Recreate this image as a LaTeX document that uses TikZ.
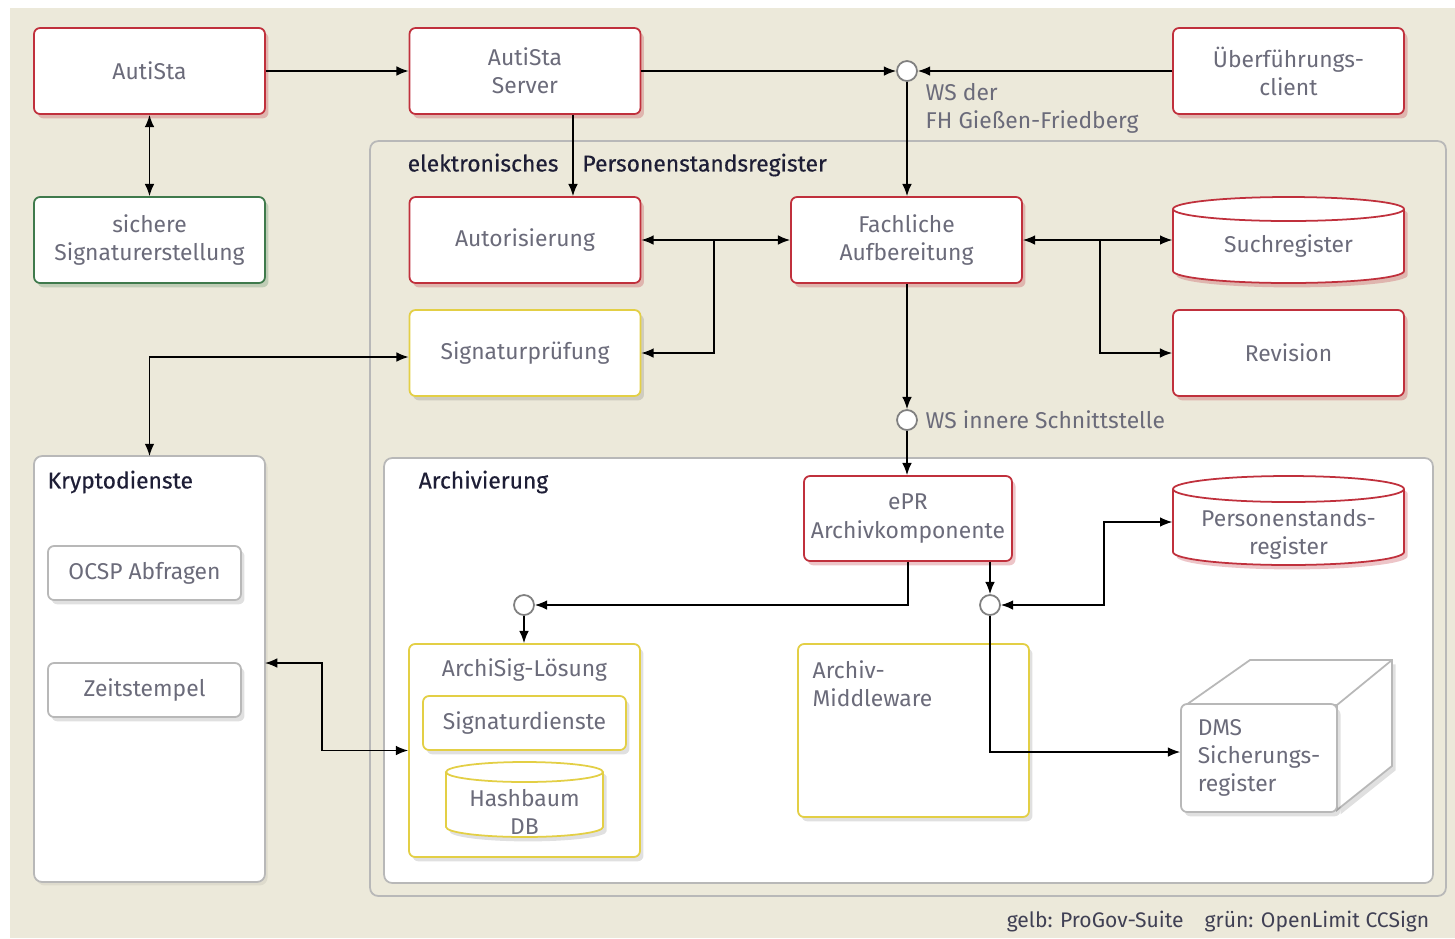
\documentclass[tikz,border=0pt]{standalone}
\usepackage{fontspec}
\setmainfont{Fira Sans}
\newfontfamily\titelfont[FakeBold=0.4]{Fira Sans}
\usetikzlibrary{arrows.meta,shadows,positioning}

\definecolor{bgbeige}{HTML}{ECE9DA}
\definecolor{rahmrot}{HTML}{C0303C}
\definecolor{rahmgelb}{HTML}{E3CF45}
\definecolor{rahmgruen}{HTML}{3F7A4C}
\definecolor{rahmgrau}{HTML}{B8B8B8}
\definecolor{textgrau}{HTML}{6B6B7A}
\definecolor{titel}{HTML}{1E1E36}

% Zylinder: Stil, cx, cy, halbe Breite, halbe Hoehe, Ellipsenradius (alles in px)
\newcommand\zylinder[6]{%
  \draw[#1] (#2-#4,#3-#5+#6) -- (#2-#4,#3+#5-#6)
    arc[start angle=180,end angle=360,x radius=#4*0.02cm,y radius=#6*0.02cm]
    -- (#2+#4,#3-#5+#6)
    arc[start angle=0,end angle=180,x radius=#4*0.02cm,y radius=#6*0.02cm]
    arc[start angle=180,end angle=360,x radius=#4*0.02cm,y radius=#6*0.02cm];}

\begin{document}
\begin{tikzpicture}[x=0.02cm,y=-0.02cm,>={Latex[length=7pt,width=5.5pt]},line width=0.8pt,
    every node/.style={font=\fontsize{13}{16}\selectfont,text=textgrau,align=center},
    kasten/.style={draw,fill=white,rounded corners=0.12cm,line width=1pt,
      minimum width=4.62cm,minimum height=1.72cm,inner sep=2pt},
    rotkasten/.style={kasten,draw=rahmrot,
      drop shadow={shadow xshift=2pt,shadow yshift=-2.5pt,fill=rahmrot,opacity=0.28}},
    gelbkasten/.style={kasten,draw=rahmgelb,
      drop shadow={shadow xshift=2pt,shadow yshift=-2.5pt,fill=black,opacity=0.12}},
    gruenkasten/.style={kasten,draw=rahmgruen,
      drop shadow={shadow xshift=2pt,shadow yshift=-2.5pt,fill=rahmgruen,opacity=0.25}},
    graukasten/.style={kasten,draw=rahmgrau,
      drop shadow={shadow xshift=2pt,shadow yshift=-2.5pt,fill=black,opacity=0.12}},
    rotzyl/.style={draw=rahmrot,fill=white,line width=1pt,
      drop shadow={shadow xshift=2pt,shadow yshift=-2.5pt,fill=rahmrot,opacity=0.28}},
    gelbzyl/.style={draw=rahmgelb,fill=white,line width=1pt,
      drop shadow={shadow xshift=2pt,shadow yshift=-2.5pt,fill=black,opacity=0.12}},
    bereich/.style={draw=rahmgrau,rounded corners=0.16cm,line width=1pt,inner sep=0,outer sep=0},
    titeltext/.style={anchor=west,inner sep=0,text=titel,font=\fontsize{13}{16}\titelfont},
    ws/.style={circle,draw=gray,fill=white,minimum size=0.4cm,inner sep=0,line width=1pt}]

    \useasboundingbox (0,0) rectangle (1455,938);
    \fill[bgbeige] (10,8) rectangle (1455,938);

    % Bereiche
    \node[bereich,fill=bgbeige,minimum width=21.52cm,minimum height=15.1cm] (epr) at (908,518.5) {};
    \node[bereich,fill=white,minimum width=20.98cm,minimum height=8.5cm] (archiv) at (908.5,670.5) {};
    \node[bereich,fill=white,minimum width=4.62cm,minimum height=8.52cm,
      drop shadow={shadow xshift=1.5pt,shadow yshift=-2pt,fill=black,opacity=0.06}] (krypto) at (149.5,669) {};
    \node[titeltext] (eprtxt) at (407,165) {elektronisches\hspace{0.48cm}Personenstandsregister};
    \node[titeltext] (kryptotxt) at (47,482) {Kryptodienste};
    \node[titeltext] (archivtxt) at (418,482) {Archivierung};

    % obere Reihe
    \node[rotkasten] (autista) at (149.5,71) {AutiSta};
    \node[rotkasten] (server) at (525,71) {AutiSta\\Server};
    \node[ws] (ws1) at (907,71) {};
    \node[rotkasten] (ueberf) at (1288.5,71) {Überführungs-\\client};
    \node[anchor=west,align=left,inner sep=0] (ws1txt) at (925,108) {WS der\\FH Gießen-Friedberg};

    \node[gruenkasten] (sicher) at (149.5,240) {sichere\\Signaturerstellung};
    \node[rotkasten] (autor) at (525,240) {Autorisierung};
    \node[rotkasten] (fach) at (906.5,240) {Fachliche\\Aufbereitung};
    \zylinder{rotzyl}{1288.5}{240}{115.5}{43}{12}
    \node[minimum width=4.62cm] (such) at (1288.5,246) {Suchregister};

    \node[gelbkasten] (sigpr) at (525,353) {Signaturprüfung};
    \node[rotkasten] (revision) at (1288.5,353) {Revision};
    \node[ws] (ws2) at (907,420) {};
    \node[anchor=west,inner sep=0] (ws2txt) at (925,420) {WS innere Schnittstelle};

    % Kryptodienste
    \node[graukasten,minimum width=3.86cm,minimum height=1.08cm] (ocsp) at (144.5,573) {OCSP Abfragen};
    \node[graukasten,minimum width=3.86cm,minimum height=1.08cm] (zeit) at (144.5,690) {Zeitstempel};

    % Archivierung
    \node[rotkasten,minimum width=4.16cm,minimum height=1.7cm] (epra) at (908,518.5) {ePR\\Archivkomponente};
    \zylinder{rotzyl}{1288.5}{520.5}{115.5}{44.5}{13}
    \node[minimum width=4.62cm] (persreg) at (1288.5,534) {Personenstands-\\register};
    \node[ws] (ws3) at (524,605) {};
    \node[ws] (ws4) at (990,605) {};
    \node[gelbkasten,minimum width=4.62cm,minimum height=4.26cm] (archisig) at (524.5,750.5) {};
    \node (archisigtxt) at (524.5,670) {ArchiSig-Lösung};
    \node[gelbkasten,minimum width=4.06cm,minimum height=1.08cm] (sigdienst) at (524.5,723) {Signaturdienste};
    \zylinder{gelbzyl}{524.5}{799.5}{78.5}{37.5}{10}
    \node (hashdb) at (524.5,812) {Hashbaum\\DB};
    \node[gelbkasten,minimum width=4.62cm,minimum height=3.46cm] (middle) at (913.5,730.5) {};
    \node[anchor=west,align=left,inner sep=0] (middletxt) at (812,684) {Archiv-\\Middleware};

    % DMS als Quader
    \filldraw[fill=white,draw=rahmgrau,line width=1pt,
      drop shadow={shadow xshift=2pt,shadow yshift=-2.5pt,fill=black,opacity=0.12}]
      (1186,705) -- (1250,660) -- (1392,660) -- (1392,766) -- (1337,810) -- (1337,705) -- cycle;
    \draw[rahmgrau,line width=1pt] (1337,705) -- (1392,660);
    \node[graukasten,minimum width=3.12cm,minimum height=2.16cm,align=left] (dms) at (1259,758)
      {DMS\\Sicherungs-\\register};

    \node[anchor=east,inner sep=0,text=titel!85,font=\fontsize{12}{16}\selectfont] (legende) at (1430,922)
      {gelb: ProGov-Suite\quad grün: OpenLimit CCSign};

    % Verbindungen
    \draw[->] (autista) -- (server);
    \draw[->] (server) -- (ws1);
    \draw[->] (ueberf) -- (ws1);
    \draw[->] (ws1.south) -- (ws1.south |- fach.north);
    \draw[<->] (autista) -- (sicher);
    \draw[->] ([xshift=0.96cm]server.south) -- ([xshift=0.96cm]autor.north);
    \draw[<->] (autor) -- (fach);
    \coordinate (abzw1) at (714,240);
    \draw[->] (abzw1) |- (sigpr.east);
    \draw[<->] (fach.east) -- (fach.east -| such.west);
    \coordinate (abzw2) at (1100,240);
    \draw[->] (abzw2) |- (revision.west);
    \draw[->] (fach.south -| ws2) -- (ws2.north);
    \draw[->] (ws2.south) -- (ws2.south |- epra.north);
    \draw[<->] (krypto.north) |- ([yshift=-0.08cm]sigpr.west);
    \coordinate (abzw3) at (322,663);
    \draw[<->] (krypto.east |- abzw3) -- (abzw3) |- (archisig.west);
    \draw[->] (epra.south) |- (ws3.east);
    \draw[->] (ws3.south) -- (ws3.south |- archisig.north);
    \draw[->] (ws4 |- epra.south) -- (ws4.north);
    \coordinate (abzw4) at (1104,605);
    \draw[<->] (ws4.east) -- (abzw4) |- ([yshift=0.24cm]persreg.west);
    \draw[->] (ws4.south) |- ([yshift=0.12cm]dms.west);
\end{tikzpicture}
\end{document}
